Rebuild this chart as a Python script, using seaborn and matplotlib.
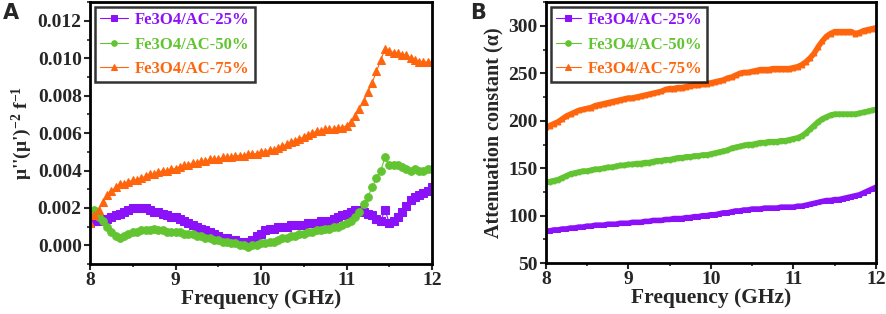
import numpy as np
import pandas as pd
import seaborn as sns
import matplotlib.pyplot as plt
from matplotlib.ticker import MultipleLocator

# frequency grid (GHz), 0.05 GHz step
freq = np.round(np.arange(8.0, 12.0001, 0.05), 2)

labels = ['Fe3O4/AC-25%', 'Fe3O4/AC-50%', 'Fe3O4/AC-75%']
colors = ['#8B12F8', '#62C430', '#FF650D']
markers = ['s', 'o', '^']

# panel A: mu''(mu')^-2 f^-1
eddy_25 = [0.0012, 0.0013, 0.0013, 0.0014, 0.0014, 0.0015, 0.0016, 0.0017, 0.0018, 0.0019,
           0.0020, 0.0020, 0.0020, 0.0020, 0.0019, 0.0018, 0.0018, 0.0017, 0.0016, 0.0015,
           0.0015, 0.0014, 0.0013, 0.0012, 0.0011, 0.0010, 0.0009, 0.0008, 0.0007, 0.0006,
           0.0005, 0.0004, 0.0004, 0.0003, 0.0003, 0.0002, 0.0002, 0.0002, 0.0003, 0.0005,
           0.0006, 0.0008, 0.0009, 0.0009, 0.0010, 0.0010, 0.0010, 0.0011, 0.0011, 0.0011,
           0.0011, 0.0012, 0.0012, 0.0012, 0.0013, 0.0013, 0.0013, 0.0014, 0.0015, 0.0016,
           0.0017, 0.0018, 0.0019, 0.0019, 0.0018, 0.0017, 0.0016, 0.0014, 0.0013, 0.0019,
           0.0012, 0.0013, 0.0015, 0.0018, 0.0021, 0.0024, 0.0026, 0.0027, 0.0028, 0.0029,
           0.0031]
eddy_50 = [0.0016, 0.0019, 0.0015, 0.0013, 0.0010, 0.0007, 0.0005, 0.0004, 0.0005, 0.0006,
           0.0007, 0.0007, 0.0008, 0.0008, 0.0008, 0.0009, 0.0008, 0.0008, 0.0007, 0.0007,
           0.0007, 0.0007, 0.0006, 0.0006, 0.0006, 0.0005, 0.0005, 0.0004, 0.0004, 0.0003,
           0.0003, 0.0002, 0.0002, 0.0001, 0.0001, 0.0000, 0.0000, -0.0001, 0.0000, 0.0000,
           0.0001, 0.0001, 0.0002, 0.0002, 0.0003, 0.0004, 0.0004, 0.0005, 0.0005, 0.0006,
           0.0006, 0.0007, 0.0007, 0.0008, 0.0008, 0.0009, 0.0009, 0.0010, 0.0010, 0.0011,
           0.0012, 0.0013, 0.0015, 0.0018, 0.0022, 0.0026, 0.0031, 0.0036, 0.0040, 0.0047,
           0.0043, 0.0043, 0.0043, 0.0042, 0.0041, 0.0040, 0.0041, 0.0040, 0.0040, 0.0041,
           0.0041]
eddy_75 = [0.0012, 0.0016, 0.0019, 0.0023, 0.0027, 0.0029, 0.0031, 0.0033, 0.0033, 0.0034,
           0.0035, 0.0035, 0.0036, 0.0037, 0.0038, 0.0038, 0.0039, 0.0040, 0.0040, 0.0041,
           0.0041, 0.0042, 0.0043, 0.0043, 0.0044, 0.0044, 0.0045, 0.0045, 0.0046, 0.0046,
           0.0046, 0.0047, 0.0047, 0.0047, 0.0048, 0.0048, 0.0048, 0.0049, 0.0049, 0.0049,
           0.0050, 0.0050, 0.0051, 0.0051, 0.0052, 0.0053, 0.0054, 0.0055, 0.0056, 0.0057,
           0.0058, 0.0059, 0.0060, 0.0061, 0.0061, 0.0062, 0.0062, 0.0062, 0.0063, 0.0063,
           0.0064, 0.0066, 0.0069, 0.0073, 0.0077, 0.0082, 0.0087, 0.0093, 0.0099, 0.0105,
           0.0104, 0.0103, 0.0103, 0.0102, 0.0102, 0.0100, 0.0099, 0.0098, 0.0098, 0.0098,
           0.0098]

# panel B: attenuation constant
alpha_25 = [84, 84, 85, 85, 86, 86, 87, 87, 88, 88,
            89, 89, 90, 90, 90, 91, 91, 91, 92, 92,
            92, 93, 93, 93, 94, 94, 95, 95, 95, 96,
            96, 97, 97, 97, 98, 98, 99, 99, 100, 100,
            101, 101, 102, 103, 103, 104, 105, 105, 106, 106,
            107, 107, 107, 108, 108, 108, 108, 109, 109, 109,
            109, 110, 110, 111, 112, 113, 114, 115, 116, 116,
            117, 117, 118, 119, 120, 121, 122, 124, 126, 128,
            130]
alpha_50 = [135, 136, 137, 138, 140, 142, 144, 145, 146, 147,
            147, 148, 149, 149, 150, 151, 151, 152, 153, 153,
            154, 154, 155, 155, 156, 156, 157, 158, 158, 159,
            159, 160, 161, 161, 162, 162, 163, 163, 164, 164,
            165, 166, 167, 168, 169, 171, 172, 173, 174, 175,
            175, 176, 177, 177, 178, 178, 178, 179, 179, 180,
            181, 182, 184, 187, 191, 195, 199, 202, 204, 206,
            207, 207, 207, 207, 207, 207, 208, 209, 210, 211,
            212]
alpha_75 = [193, 195, 197, 199, 202, 205, 207, 209, 211, 212,
            213, 214, 216, 217, 218, 219, 220, 221, 222, 223,
            224, 224, 225, 226, 227, 228, 229, 230, 231, 233,
            234, 234, 235, 235, 236, 237, 238, 238, 239, 239,
            240, 241, 242, 243, 245, 246, 248, 250, 251, 251,
            252, 253, 254, 254, 254, 255, 255, 255, 255, 255,
            256, 257, 259, 262, 266, 271, 278, 284, 289, 292,
            294, 294, 294, 294, 294, 292, 293, 295, 296, 297,
            298]

sns.set_style('ticks')
plt.rcParams['font.family'] = ['Liberation Serif', 'DejaVu Serif']
plt.rcParams['font.weight'] = 'bold'
plt.rcParams['axes.labelweight'] = 'bold'
plt.rcParams['mathtext.fontset'] = 'custom'
plt.rcParams['mathtext.rm'] = 'Liberation Serif:bold'
plt.rcParams['mathtext.it'] = 'Liberation Serif:bold'
plt.rcParams['mathtext.bf'] = 'Liberation Serif:bold'

fig = plt.figure(figsize=(8.86, 3.14), dpi=100)
axA = fig.add_axes([0.1016, 0.159, 0.386, 0.834])
axB = fig.add_axes([0.616, 0.162, 0.3727, 0.831])


def draw(ax, series, ms, lw):
    for y, lab, c, m in zip(series, labels, colors, markers):
        df = pd.DataFrame({'f': freq, 'v': y})
        sns.lineplot(data=df, x='f', y='v', ax=ax, color=c, marker=m, markersize=ms,
                     markeredgecolor=c, linewidth=lw, label=lab)


draw(axA, [eddy_25, eddy_50, eddy_75], 5.5, 0.8)
draw(axB, [alpha_25, alpha_50, alpha_75], 3.5, 4)

axA.set_ylim(-0.001, 0.013)
axA.yaxis.set_major_locator(MultipleLocator(0.002))
axA.yaxis.set_minor_locator(MultipleLocator(0.001))
axA.yaxis.set_major_formatter(plt.FormatStrFormatter('%.3f'))
axA.set_ylabel(r"μ''(μ')$^{-2}$ f$^{-1}$", fontsize=14, labelpad=3)

axB.set_ylim(50, 325)
axB.yaxis.set_major_locator(MultipleLocator(50))
axB.yaxis.set_minor_locator(MultipleLocator(25))
axB.set_ylabel('Attenuation constant (α)', fontsize=14.5, labelpad=3)

for ax, hl in ((axA, 1.7), (axB, 1.5)):
    ax.set_xlim(8, 12)
    ax.xaxis.set_major_locator(MultipleLocator(1))
    ax.xaxis.set_minor_locator(MultipleLocator(0.5))
    ax.set_xlabel('Frequency (GHz)', fontsize=15.5, labelpad=0)
    ax.tick_params(which='major', direction='out', length=4, width=1.5, labelsize=14, pad=2)
    ax.tick_params(which='minor', direction='out', length=2.5, width=1.2)
    for s in ax.spines.values():
        s.set_visible(True)
        s.set_linewidth(2)
        s.set_color('black')
    leg = ax.legend(loc='upper left', fontsize=12, frameon=True, fancybox=False,
                    edgecolor='black', handlelength=hl, borderpad=0.3,
                    labelspacing=0.5, handletextpad=0.4, borderaxespad=0.3)
    leg.get_frame().set_linewidth(1.8)
    for t, c in zip(leg.get_texts(), colors):
        t.set_color(c)
        t.set_fontweight('bold')
    for h in leg.legend_handles:
        h.set_linewidth(0.8)
        h.set_markersize(4)

fig.text(0.003, 0.96, 'A', fontsize=15, fontweight='bold', family='DejaVu Sans', va='center')
fig.text(0.531, 0.96, 'B', fontsize=15, fontweight='bold', family='DejaVu Sans', va='center')

fig.savefig('out.png', dpi=100)
